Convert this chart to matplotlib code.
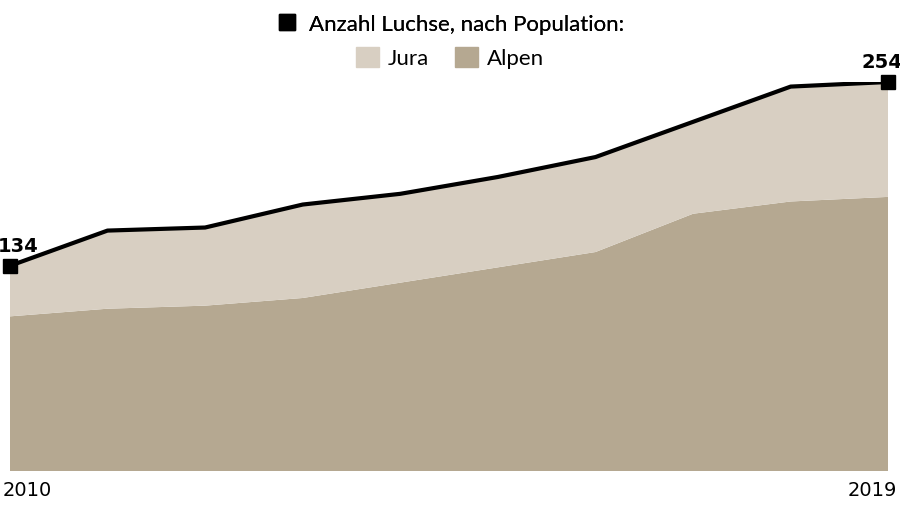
import matplotlib
matplotlib.use("Agg")
import matplotlib.pyplot as plt
from matplotlib.patches import Patch
from matplotlib.lines import Line2D

years = [2010, 2011, 2012, 2013, 2014, 2015, 2016, 2017, 2018, 2019]
total = [134, 157, 159, 174, 181, 192, 205, 228, 251, 254]
alpen = [101, 106, 108, 113, 123, 133, 143, 168, 176, 179]
jura = [t - a for t, a in zip(total, alpen)]

c_alpen = "#b5a891"
c_jura = "#d8cfc2"
narrow = ["Liberation Sans Narrow", "DejaVu Sans"]

fig = plt.figure(figsize=(9, 5.06), dpi=100)
ax = fig.add_axes([0.011, 0.067, 0.976, 0.769])
ax.stackplot(years, alpen, jura, colors=[c_alpen, c_jura], linewidth=0)
ax.plot(years, total, color="black", lw=3, solid_joinstyle="round")
ax.plot([years[0], years[-1]], [total[0], total[-1]], "s", color="black", ms=10, clip_on=False)
ax.set_xlim(years[0], years[-1])
ax.set_ylim(0, 254)
ax.axis("off")

ax.annotate(str(total[0]), (years[0], total[0]), xytext=(-9, 8), textcoords="offset points",
            ha="left", va="bottom", fontsize=14, fontweight="bold", family=narrow)
ax.annotate(str(total[-1]), (years[-1], total[-1]), xytext=(10, 8), textcoords="offset points",
            ha="right", va="bottom", fontsize=14, fontweight="bold", family=narrow)
fig.text(0.003, 0.02, str(years[0]), fontsize=14, family=narrow, ha="left")
fig.text(0.997, 0.02, str(years[-1]), fontsize=14, family=narrow, ha="right")

h1 = [Line2D([], [], marker="s", color="black", ls="none", ms=12)]
leg1 = fig.legend(h1, ["Anzahl Luchse, nach Population:"], loc="upper center", bbox_to_anchor=(0.5, 1.01),
                  frameon=False, handlelength=1, handletextpad=0.5, prop={"family": "Lato", "size": 16})
fig.add_artist(leg1)
h2 = [Patch(color=c_jura), Patch(color=c_alpen)]
fig.legend(h2, ["Jura", "Alpen"], loc="upper center", bbox_to_anchor=(0.5, 0.945), ncol=2,
           frameon=False, handlelength=1, handleheight=1, handletextpad=0.4, columnspacing=1.2,
           prop={"family": "Lato", "size": 16})

fig.savefig("out.png", dpi=100)
